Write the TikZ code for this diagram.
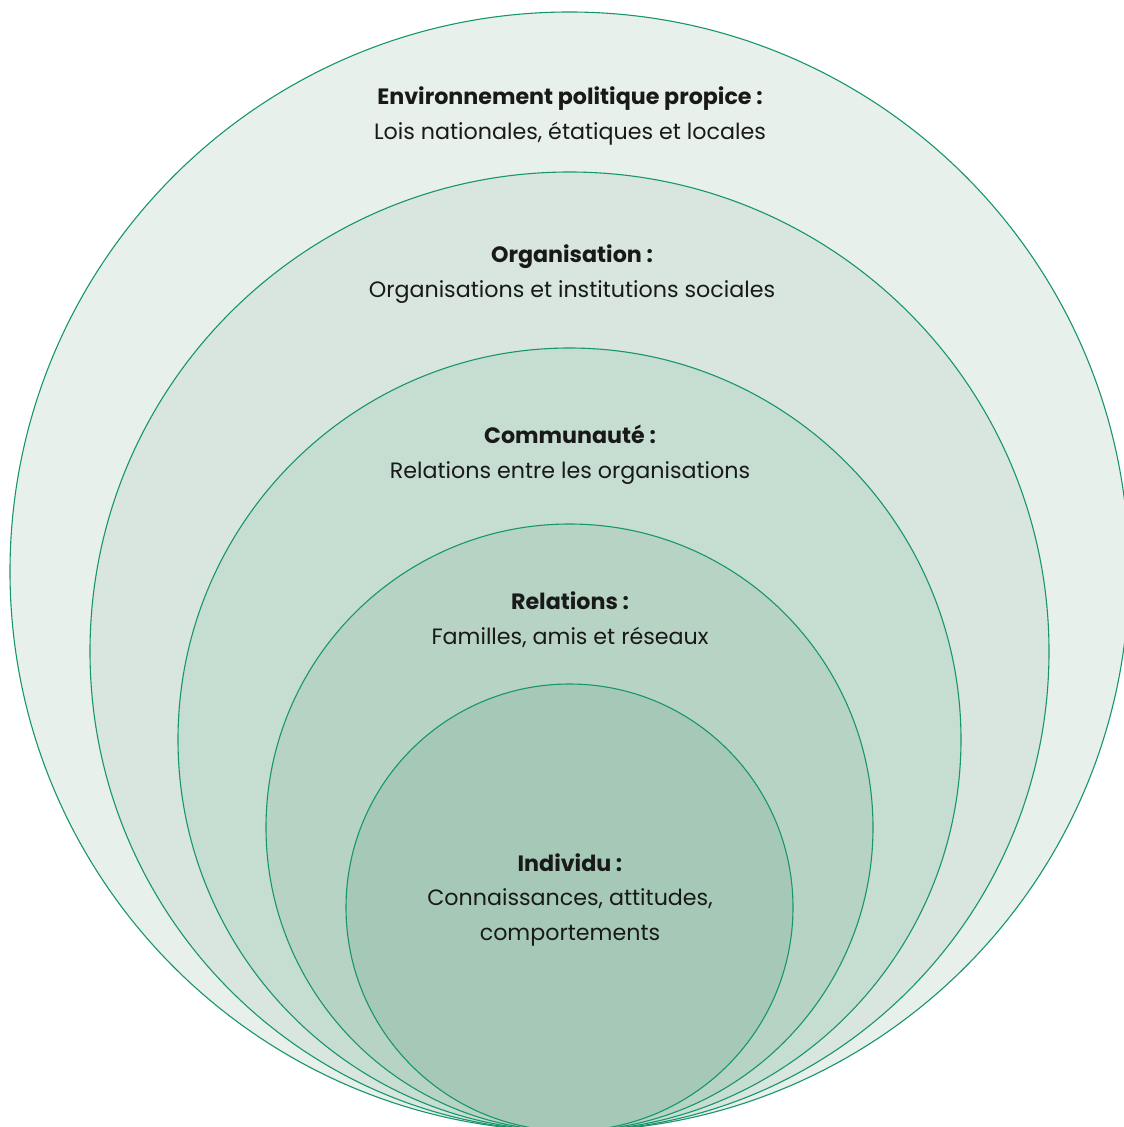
\documentclass[tikz,border=0pt]{standalone}
\usepackage{fontspec}
\setmainfont{Poppins}
\usepackage{xcolor}
\usepackage{tikz}
\usetikzlibrary{positioning}
\definecolor{ringline}{HTML}{17966C}
\definecolor{ringA}{HTML}{E8F0EB}
\definecolor{ringB}{HTML}{D8E6DF}
\definecolor{ringC}{HTML}{C6DDD1}
\definecolor{ringD}{HTML}{B6D3C4}
\definecolor{ringE}{HTML}{A6C9B7}
\tikzset{
  ring/.style={draw=ringline, line width=1.1pt},
  label/.style={align=center, font=\fontsize{22.2}{34.5}\selectfont, inner sep=0pt, text=black!90}
}
\begin{document}
\begin{tikzpicture}[x=1pt,y=-1pt]
  \useasboundingbox (0,0) rectangle (1124,1127);

  % rings, all touching at the bottom
  \draw[ring, fill=ringA] (569.5,571.5) circle[radius=559.5];
  \draw[ring, fill=ringB] (569.5,651.5) circle[radius=479.5];
  \draw[ring, fill=ringC] (569.5,739.5) circle[radius=391.5];
  \draw[ring, fill=ringD] (569.5,827.5) circle[radius=303.5];
  \draw[ring, fill=ringE] (569.5,907.5) circle[radius=223.5];

  \node[label] (env) at (570,116) {\textbf{Environnement politique propice :}\\Lois nationales, étatiques et locales};
  \node[label] (org) at (572,274) {\textbf{Organisation :}\\Organisations et institutions sociales};
  \node[label] (comm) at (570,454.5) {\textbf{Communauté :}\\Relations entre les organisations};
  \node[label] (rel) at (570,619.5) {\textbf{Relations :}\\Familles, amis et réseaux};
  \node[label] (ind) at (570,899.5) {\textbf{Individu :}\\Connaissances, attitudes,\\comportements};
\end{tikzpicture}
\end{document}
